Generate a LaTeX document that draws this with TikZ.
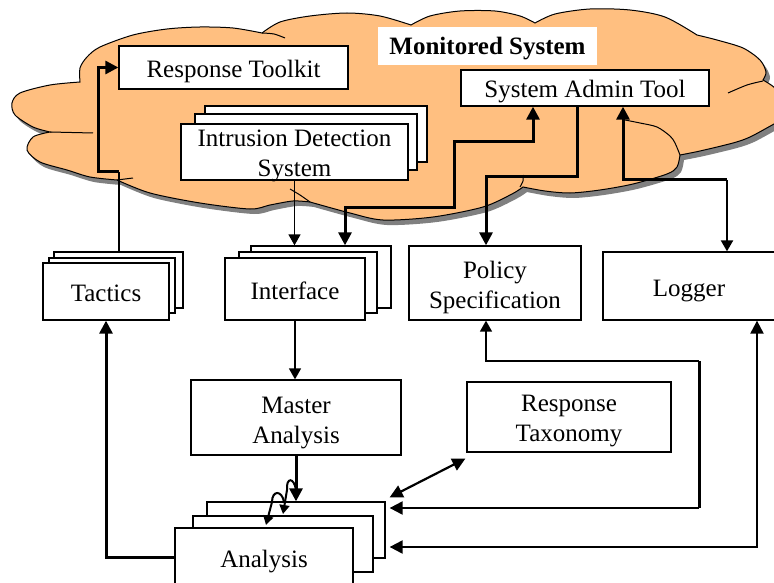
\documentclass[tikz,border=0pt]{standalone}
\usepackage{fontspec}
\setmainfont{Liberation Serif}
\usetikzlibrary{arrows.meta,calc}
\definecolor{cloudorange}{RGB}{255,191,128}
\definecolor{shadowgray}{RGB}{128,128,128}
\newcommand\diagfont{\fontsize{25}{30}\selectfont}
\newcommand\cloudshape[1]{\path[#1] (80,82)
 -- plot[smooth] coordinates {(80,82) (80,68) (87,57) (100,47) (133,35) (167,29) (200,27) (233,28) (262,33)}
 -- plot[smooth] coordinates {(262,33) (280,22) (310,16) (347,13) (380,16) (411,25)}
 -- plot[smooth] coordinates {(411,25) (430,16) (460,11) (495,11) (520,16) (535,23)}
 -- plot[smooth] coordinates {(535,23) (555,14) (590,9) (630,10) (665,17) (697,35)}
 -- plot[smooth] coordinates {(697,35) (717,40) (743,48) (760,60) (766,72) (763,80)}
 -- plot[smooth] coordinates {(763,80) (775,88) (790,105) (785,118) (774,124) (750,137) (733,143) (700,151) (680,155)}
 -- plot[smooth] coordinates {(680,155) (677,167) (667,174) (633,184) (600,190) (570,193) (545,191) (523,187)}
 -- plot[smooth] coordinates {(523,187) (512,194) (483,207) (433,217) (383,220) (350,213) (310,202)}
 -- plot[smooth] coordinates {(310,202) (293,201) (270,205) (250,209) (200,203) (150,193) (117,180)}
 -- plot[smooth] coordinates {(117,180) (90,177) (67,170) (40,162) (27,150) (33,137) (50,132)}
 -- plot[smooth] coordinates {(50,132) (33,127) (15,115) (12,103) (20,93) (50,85) (80,82)}
 -- cycle;}
\begin{document}
\begin{tikzpicture}[x=1pt,y=-1pt,
  box/.style={draw, line width=1.3pt, fill=white, inner sep=0pt, align=center, font=\diagfont,
    text height=20pt, text depth=0pt},
  lbl/.style={inner sep=0pt, align=center, font=\diagfont},
  thinln/.style={line width=1.5pt},
  medln/.style={line width=2.2pt},
  thickln/.style={line width=3pt},
  curl/.style={line width=2pt},
  tipb/.tip={Triangle[length=13pt,width=13pt]},
  tips/.tip={Triangle[length=11pt,width=12pt]},
  tipc/.tip={Triangle[length=9pt,width=10pt]},
  inner/.style={line width=1pt}]
\clip (0,0) rectangle (774,583);
\fill[white] (0,0) rectangle (774,583);
% cloud
\cloudshape{fill=shadowgray, shift={(4,5)}}
\cloudshape{fill=cloudorange, draw=black, line width=1pt}
\draw[inner] plot[smooth] coordinates {(262,33) (274,34) (285,38)};
\draw[inner] plot[smooth] coordinates {(763,81) (747,85) (728,93)};
\draw[inner] plot[smooth] coordinates {(680,155) (675,143) (670,136) (657,127) (640,123) (625,120)};
\draw[inner] plot[smooth] coordinates {(520,187) (523,181) (523,175)};
\draw[inner] plot[smooth] coordinates {(310,202) (300,195) (290,189)};
\draw[inner] (117,180) -- (133,178);
\draw[inner] (50,132) -- (93,133);
% label
\node[fill=white, minimum width=219pt, minimum height=38pt, inner sep=0pt, font=\diagfont\bfseries,
  text height=18pt, text depth=0pt] (mon) at (487.5,46) {Monitored System};
% boxes in cloud
\node[box, minimum width=229pt, minimum height=43pt] (rt) at (233.5,67.5) {Response Toolkit};
\node[box, minimum width=248pt, minimum height=36pt] (sat) at (585,88) {System Admin Tool};
\node[box, minimum width=222pt, minimum height=56pt] (idsB2) at (316,134) {};
\node[box, minimum width=222pt, minimum height=56pt] (idsB1) at (306,142) {};
\node[box, minimum width=227pt, minimum height=56pt] (ids) at (294.5,152) {};
\node[lbl] (idsT) at ([yshift=-4pt]ids.center) {Intrusion Detection\\System};
% middle row
\node[box, minimum width=129pt, minimum height=56pt] (tacB2) at (118.5,280) {};
\node[box, minimum width=126pt, minimum height=55pt] (tacB1) at (112,285.5) {};
\node[box, minimum width=126pt, minimum height=57pt] (tac) at (106,291.5) {Tactics};
\node[box, minimum width=140pt, minimum height=62pt] (ifB2) at (321,277) {};
\node[box, minimum width=138pt, minimum height=61pt] (ifB1) at (308,282.5) {};
\node[box, minimum width=140pt, minimum height=62pt] (ifc) at (295,289) {Interface};
\node[box, minimum width=172pt, minimum height=74pt] (pol) at (495,283) {};
\node[lbl] (polT) at ([yshift=-4pt]pol.center) {Policy\\Specification};
\node[box, minimum width=172pt, minimum height=68pt] (log) at (689,286) {Logger};
% lower
\node[box, minimum width=210pt, minimum height=75pt] (mas) at (296,417.5) {};
\node[lbl] (masT) at ([yshift=-6pt]mas.center) {Master\\Analysis};
\node[box, minimum width=204pt, minimum height=70pt] (tax) at (569,417) {};
\node[lbl] (taxT) at ([yshift=-4pt]tax.center) {Response\\Taxonomy};
\node[box, minimum width=178pt, minimum height=56pt] (anB2) at (296,530) {};
\node[box, minimum width=180pt, minimum height=56pt] (anB1) at (283,544) {};
\node[box, minimum width=178pt, minimum height=58pt] (an) at (264,557) {Analysis};
\coordinate (anR) at ([xshift=4pt]anB2.east);
% connectors
\coordinate (k1) at (119,172);
\draw[thinln] (tacB2.north -| k1) -- (k1);
\draw[thickln, -tipb] (k1) -- (98,172) |- (rt.west);
\draw[thinln, -tips] (ids.south) -- (ids.south |- ifB2.north);
\coordinate (c3) at (345,207);
\draw[thickln, tipb-tipb] (c3 |- ifB2.north) -- (c3) -- (454,207) -- (454,142) -- (533,142) -- (533,142 |- sat.south);
\draw[thickln, -tipb] (577,0 |- sat.south) -- (577,177) -- (486,177) -- (486,0 |- pol.north);
\draw[thickln, tipb-] (623,0 |- sat.south) -- (623,180) -- (727,180);
\draw[medln, -tips] (727,180) -- (727,0 |- log.north);
\draw[thinln, -tips] (ifc.south) -- (ifc.south |- mas.north);
\draw[thickln, -tipb] (mas.south) -- (mas.south |- anB2.north);
\draw[curl, -tipc] (296,490) .. controls (294,477) and (286,477) .. (287,490) -- (283,514);
\draw[curl, -tipc] (284,502) .. controls (282,490) and (272,490) .. (272,502) -- (266,525);
\draw[medln, tipb-tipb] ([xshift=4pt,yshift=4pt]anB2.north east) -- ([xshift=-1pt,yshift=-6pt]tax.south west);
\draw[thinln, tips-] (486,0 |- pol.south) -- (486,361) -- (699,361);
\draw[thickln] (699,361) -- (699,508);
\draw[medln, -tipb] (699,508) -- (anR |- 0,508);
\draw[medln, tipb-tipb] (757,0 |- log.south) -- (757,547) -- (anR |- 0,547);
\draw[thickln, -tipb] (an.west) -- (an.west -| 106,0) -- (106,0 |- tac.south);
\end{tikzpicture}
\end{document}
